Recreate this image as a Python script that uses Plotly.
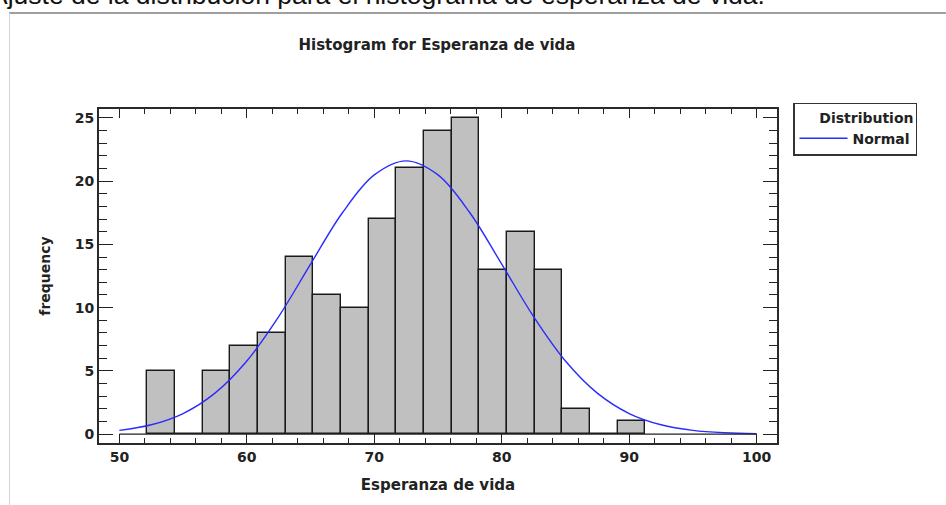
import plotly.graph_objects as go

# Histogram classes for "Esperanza de vida"
bin_lower = 52.2
bin_width = 2.17
counts = [5, 0, 5, 7, 8, 14, 11, 10, 17, 21, 24, 25, 13, 16, 13, 2, 0, 1]

# Fitted normal curve (frequency scale)
curve_x = [50, 52.5, 55, 57.5, 60, 62.5, 65, 67.5, 70, 72.5, 75, 77.5, 80,
           82.5, 85, 87.5, 90, 92.5, 95, 97.5, 100]
curve_y = [0.3, 0.74, 1.63, 3.24, 5.78, 9.29, 13.44, 17.5, 20.49, 21.6, 20.49,
           17.5, 13.44, 9.29, 5.78, 3.24, 1.63, 0.74, 0.3, 0.11, 0.04]

x_tick_values = [50, 60, 70, 80, 90, 100]
y_tick_values = [0, 5, 10, 15, 20, 25]

centers = [bin_lower + (i + 0.5) * bin_width for i in range(len(counts))]

FONT = "DejaVu Sans"
DARK = "#222222"

fig = go.Figure()
fig.add_trace(go.Bar(
    x=centers, y=counts, width=bin_width,
    marker=dict(color="#C0C0C0", line=dict(color="#1a1a1a", width=1.4)),
    showlegend=False, hoverinfo="x+y",
))
fig.add_trace(go.Scatter(
    x=curve_x, y=curve_y, mode="lines", name="<b>Normal</b>",
    line=dict(color="#2b2bff", width=1.4, shape="spline"),
))

axis_common = dict(
    showgrid=False, zeroline=False,
    showline=True, linecolor="#2a2a2a", linewidth=2, mirror="ticks",
    ticks="inside", tickcolor=DARK, tickwidth=1.3,
    tickfont=dict(family=FONT, size=14, color=DARK, weight="bold"),
)

fig.update_xaxes(
    **axis_common,
    range=[48.4, 101.6], tickvals=x_tick_values, ticklen=9,
    minor=dict(ticks="inside", dtick=2, tick0=50, ticklen=5,
               tickcolor=DARK, tickwidth=1.2),
    title=dict(text="<b>Esperanza de vida</b>",
               font=dict(family=FONT, size=15, color=DARK), standoff=16),
)
fig.update_yaxes(
    **axis_common,
    range=[-0.7, 25.7], tickvals=y_tick_values, ticklen=14,
    minor=dict(ticks="inside", dtick=1, tick0=0, ticklen=8,
               tickcolor=DARK, tickwidth=1.2),
    title=dict(text="<b>frequency</b>",
               font=dict(family=FONT, size=14, color=DARK), standoff=21),
)

# zero baseline of the histogram between the axis limits
fig.add_shape(type="line", xref="x", yref="y", x0=50, x1=100, y0=0, y1=0,
              line=dict(color=DARK, width=1.4), layer="above")

# frame of the embedded chart image
fig.add_shape(type="line", xref="paper", yref="paper",
              x0=-0.1327, x1=1.26, y0=1.2874, y1=1.2874,
              line=dict(color="#7f7f7f", width=1.5))
fig.add_shape(type="line", xref="paper", yref="paper",
              x0=-0.1320, x1=-0.1320, y0=1.2874, y1=-0.2,
              line=dict(color="#d4d4d4", width=1))

# caption line from the surrounding document
fig.add_annotation(
    text="Ajuste de la distribución para el histograma de esperanza de vida.",
    xref="paper", yref="paper", x=-0.1640, y=1.2904,
    xanchor="left", yanchor="bottom", showarrow=False,
    font=dict(family="Liberation Sans", size=26.5, color="#111111"),
)

fig.update_layout(
    width=946, height=505,
    margin=dict(l=99, r=169, t=109, b=62, autoexpand=False),
    paper_bgcolor="white", plot_bgcolor="white",
    bargap=0,
    title=dict(text="<b>Histogram for Esperanza de vida</b>",
               x=0.4619, xanchor="center", y=0.911, yanchor="middle",
               font=dict(family=FONT, size=15, color=DARK)),
    legend=dict(
        x=1.0236, y=1.018, xanchor="left", yanchor="top",
        bordercolor="#333333", borderwidth=1.5, bgcolor="white",
        font=dict(family=FONT, size=14, color=DARK),
        title=dict(text="<b>Distribution</b>", side="top right",
                   font=dict(family=FONT, size=14, color=DARK)),
        itemwidth=48, tracegroupgap=0,
    ),
    showlegend=True,
)

fig.write_html("out.html")
